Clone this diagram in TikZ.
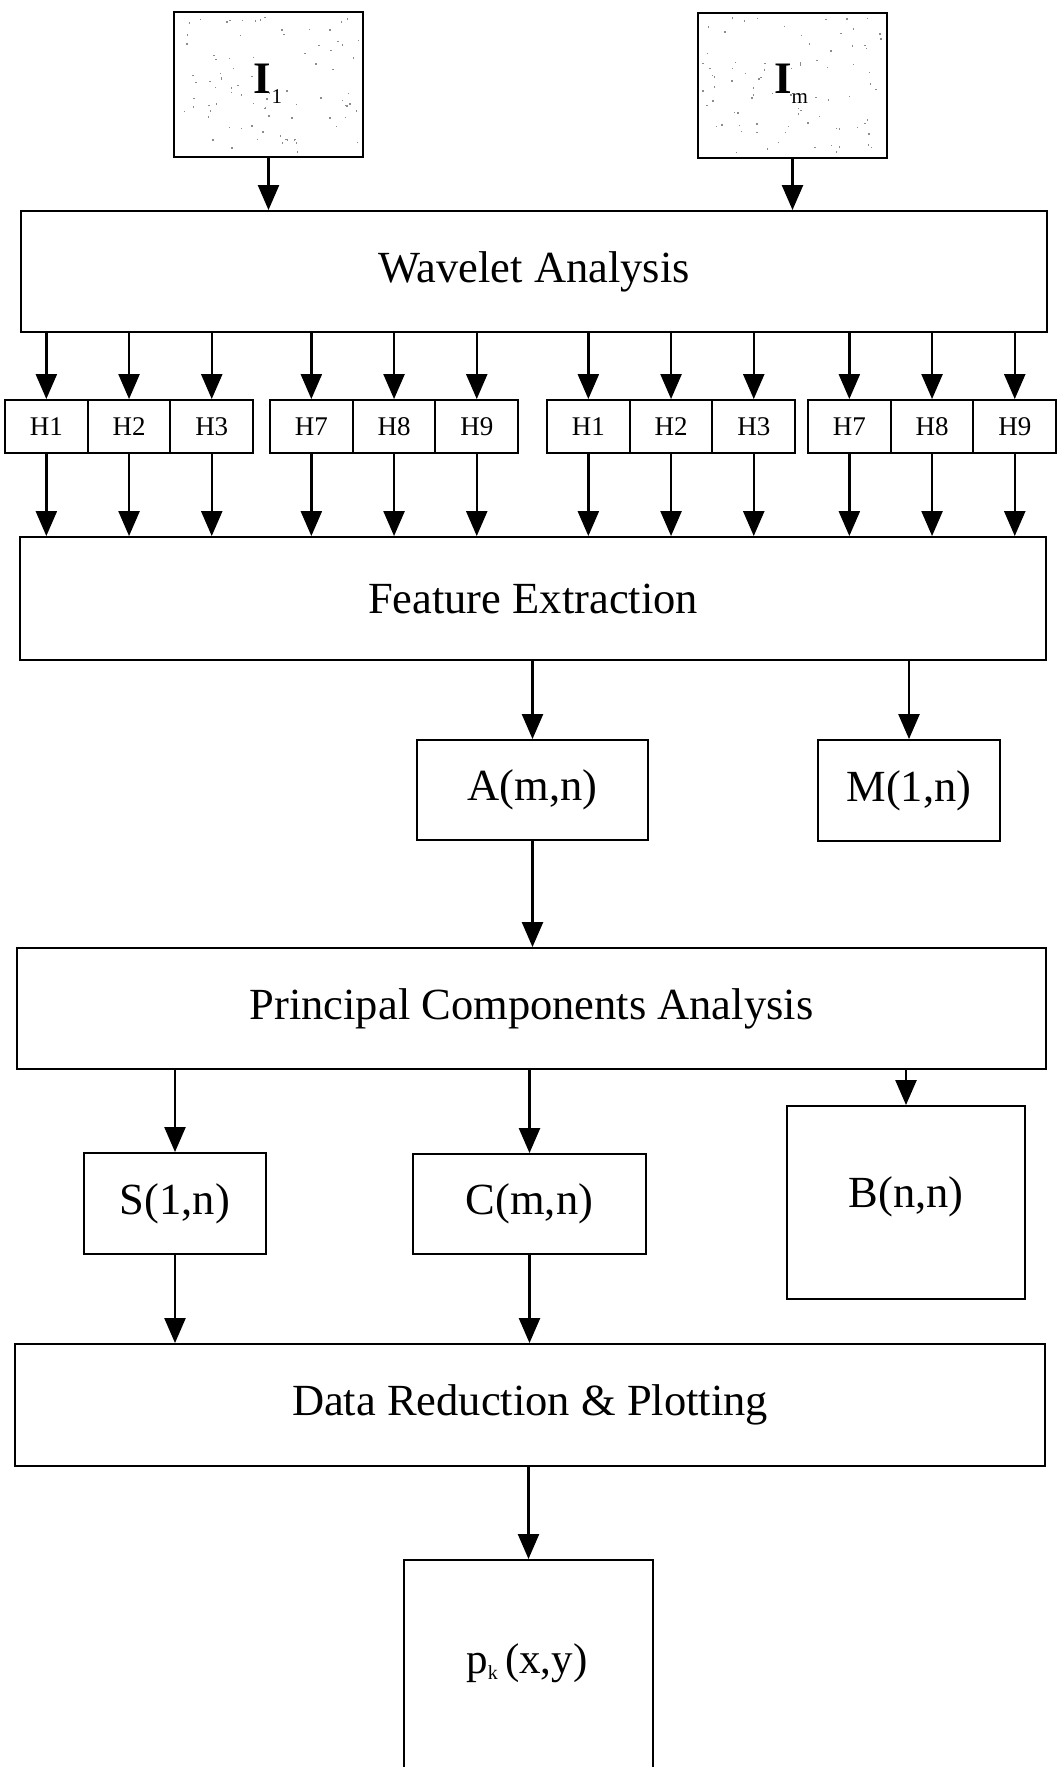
\documentclass[tikz,border=0pt]{standalone}
\usepackage{fontspec}
\setmainfont{Liberation Serif}
\usetikzlibrary{arrows.meta}
\begin{document}
\begin{tikzpicture}[x=1pt,y=-1pt,
  box/.style={draw=black, line width=1.9pt, rectangle, inner sep=0pt},
  big/.style={font=\fontsize{44.5}{52}\selectfont},
  hcell/.style={box, minimum width=82.7pt, minimum height=53pt, font=\fontsize{27}{30}\selectfont},
  arr/.style={line width=2.4pt, -{Triangle[length=25pt,width=21pt]}},
  speck/.style={fill=black!45},
  imglabel/.style={font=\fontsize{45}{52}\selectfont\bfseries, anchor=base, inner sep=0pt},
]
\useasboundingbox (0,0) rectangle (1057,1767);
\clip (0,0) rectangle (1057,1767);

% speckled image texture
\pgfmathsetseed{4242}
\foreach \i in {1,...,85} {
  \pgfmathsetmacro{\rx}{178+180*rnd}
  \pgfmathsetmacro{\ry}{16+136*rnd}
  \fill[speck] (\rx,\ry) rectangle ++(1.5,1.5);
  \pgfmathsetmacro{\sx}{702+180*rnd}
  \pgfmathsetmacro{\sy}{17+136*rnd}
  \fill[speck] (\sx,\sy) rectangle ++(1.5,1.5);
}

% input images
\node[box, minimum width=189pt, minimum height=145pt] (I1) at (268.5,84.5) {};
\node[imglabel] (I1t) at (268,93) {I\raisebox{-10pt}{\fontsize{21}{21}\selectfont\mdseries 1}};
\node[box, minimum width=189pt, minimum height=145pt] (Im) at (792.5,85.5) {};
\node[imglabel] (Imt) at (791,93) {I\raisebox{-10pt}{\fontsize{21}{21}\selectfont\mdseries m}};

% main blocks
\node[box, big, minimum width=1026pt, minimum height=121pt] (wav) at (534,271.5) {Wavelet Analysis};
\node[box, big, minimum width=1026pt, minimum height=123pt] (fe) at (533,598.5) {Feature Extraction};

\draw[arr] (I1.south) -- (I1.south |- wav.north);
\draw[arr] (Im.south) -- (Im.south |- wav.north);

% wavelet sub-bands
\foreach \g/\gx/\la/\lb/\lc in {1/5/H1/H2/H3, 2/270/H7/H8/H9, 3/547/H1/H2/H3, 4/808/H7/H8/H9} {
  \node[hcell] (hA\g) at (\gx+41.35,426.5) {\la};
  \node[hcell] (hB\g) at (\gx+124.05,426.5) {\lb};
  \node[hcell] (hC\g) at (\gx+206.75,426.5) {\lc};
  \foreach \c in {hA\g,hB\g,hC\g} {
    \draw[arr] (wav.south -| \c) -- (\c.north);
    \draw[arr] (\c.south) -- (\c.south |- fe.north);
  }
}

% matrices
\node[box, big, minimum width=231pt, minimum height=100pt] (A) at (532.5,790) {A(m,n)};
\node[box, big, minimum width=182pt, minimum height=101pt] (M) at (909,790.5) {M(1,n)};
\draw[arr] (fe.south -| A) -- (A.north);
\draw[arr] (fe.south -| M) -- (M.north);

\node[box, big, minimum width=1029pt, minimum height=121pt] (pca) at (531.5,1008.5) {Principal Components Analysis};
\draw[arr] (A.south) -- (A.south |- pca.north);

\node[box, big, minimum width=182pt, minimum height=101pt] (S) at (175,1203.5) {S(1,n)};
\node[box, big, minimum width=233pt, minimum height=100pt] (C) at (529.5,1204) {C(m,n)};
\node[box, minimum width=238pt, minimum height=193pt] (B) at (906,1202.5) {};
\node[big] (Bt) at (906,1197) {B(n,n)};
\draw[arr] (pca.south -| S) -- (S.north);
\draw[arr] (pca.south -| C) -- (C.north);
\draw[arr] (pca.south -| B) -- (B.north);

\node[box, big, minimum width=1030pt, minimum height=122pt] (dr) at (530,1405) {Data Reduction \& Plotting};
\draw[arr] (S.south) -- (S.south |- dr.north);
\draw[arr] (C.south) -- (C.south |- dr.north);

\node[box, anchor=north, minimum width=249pt, minimum height=260pt] (pk) at (528.5,1559) {};
\node[font=\fontsize{43}{50}\selectfont] (pkt) at (527,1663) {p\raisebox{-6pt}{\fontsize{20}{20}\selectfont k}\,(x,y)};
\draw[arr] (dr.south -| pk) -- (pk.north);
\end{tikzpicture}
\end{document}
